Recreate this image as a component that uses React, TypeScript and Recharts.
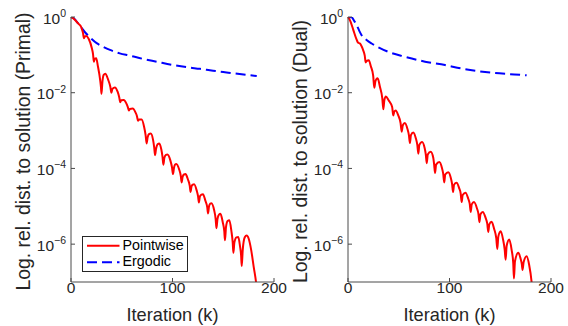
import React from 'react';
import { LineChart, Line, XAxis, YAxis, Legend } from 'recharts';

// [iteration k, log10 of relative distance]
const primalPointwise: [number, number][] = [
  [0, 0], [2, -0.03], [4, -0.08], [7, -0.17], [9.5, -0.24], [10.5, -0.3], [11.8, -0.42], [12.8, -0.56],
  [13.8, -0.51], [15, -0.5], [17.5, -0.58], [20.5, -0.82], [21.7, -0.98], [22.5, -1.18], [23.5, -1.1],
  [24.8, -1.09], [26.5, -1.3], [28.8, -1.68], [29.5, -1.85], [30, -2.03], [31, -1.7], [32.2, -1.53],
  [33.8, -1.5], [36.5, -1.65], [38.8, -1.85], [39.8, -2.0], [40.8, -1.9], [43.2, -1.86], [46, -1.98],
  [47.5, -2.12], [48.5, -2.25], [49.5, -2.2], [52, -2.19], [54.5, -2.28], [56, -2.38], [57, -2.47],
  [58, -2.43], [60.8, -2.42], [63.5, -2.52], [65, -2.62], [66, -2.74], [67, -2.71], [69.6, -2.71],
  [72, -2.9], [73.5, -3.12], [74.5, -3.34], [75.5, -3.18], [77, -3.09], [78.6, -3.08], [80.8, -3.24],
  [82, -3.45], [82.8, -3.65], [83.8, -3.48], [85.3, -3.36], [87, -3.34], [89, -3.5], [90.2, -3.7],
  [91, -3.9], [92, -3.72], [93.5, -3.64], [95, -3.63], [97.8, -3.78], [99.5, -3.97], [100.5, -4.15],
  [101.5, -3.98], [102.5, -3.9], [103.8, -3.88], [106.5, -4.02], [108.2, -4.2], [109, -4.37],
  [110, -4.22], [111.3, -4.16], [112.8, -4.15], [115.3, -4.3], [117, -4.46], [117.8, -4.62],
  [118.8, -4.47], [120, -4.43], [121.3, -4.42], [123.8, -4.58], [125.2, -4.74], [126, -4.9],
  [127, -4.74], [128.5, -4.69], [130, -4.68], [132.5, -4.86], [134.2, -5.02], [135, -5.19],
  [136, -5.0], [137.2, -4.93], [138.4, -4.92], [141, -5.1], [142.5, -5.33], [143.3, -5.58],
  [144.3, -5.34], [145.8, -5.22], [147.2, -5.2], [149.5, -5.42], [151, -5.65], [151.7, -5.9],
  [152.7, -5.55], [154.3, -5.39], [156, -5.37], [158, -5.65], [159.3, -5.95], [160, -6.23],
  [161, -5.95], [163, -5.82], [164.8, -5.81], [166.5, -6.05], [167.6, -6.3], [168.2, -6.58],
  [169.2, -6.15], [171.2, -5.82], [173.1, -5.77], [175, -5.85], [177.5, -6.15], [180, -6.6],
  [182.3, -7.0], [183.5, -7.3],
];

const primalErgodic: [number, number][] = [
  [0, 0], [3, -0.04], [7, -0.17], [10, -0.27], [14, -0.41], [20, -0.57], [25.3, -0.69], [32, -0.79],
  [38.4, -0.87], [48, -0.96], [58, -1.02], [70, -1.1], [84.4, -1.18], [100.8, -1.27], [115, -1.33],
  [127, -1.37], [140, -1.42], [155, -1.47], [170, -1.52], [183, -1.56],
];

const dualPointwise: [number, number][] = [
  [0, 0], [2.5, -0.12], [5.2, -0.34], [8.5, -0.6], [10, -0.68], [11.8, -0.7], [13.5, -0.78],
  [15, -0.88], [16.5, -1.02], [17.4, -1.2], [18.5, -1.16], [20.5, -1.14], [22.5, -1.3],
  [24.8, -1.55], [25.9, -1.87], [27, -1.7], [28, -1.64], [29.2, -1.62], [31.5, -1.85], [33.8, -2.15],
  [34.8, -2.44], [35.8, -2.2], [37.3, -2.1], [40, -2.2], [43.5, -2.38], [44.6, -2.6], [45.6, -2.5],
  [47, -2.47], [49.5, -2.6], [51.8, -2.8], [52.9, -3.03], [54, -2.86], [56, -2.8], [58.5, -2.95],
  [60, -3.12], [61, -3.33], [62, -3.12], [64.3, -3.05], [66.8, -3.2], [68.3, -3.38], [69.3, -3.61],
  [70.3, -3.38], [73, -3.3], [75.5, -3.46], [76.6, -3.62], [77.6, -3.86], [78.6, -3.63], [81.5, -3.56],
  [84, -3.72], [84.8, -3.88], [85.8, -4.12], [86.8, -3.9], [90, -3.83], [92.5, -3.98], [93.8, -4.14],
  [94.8, -4.37], [95.8, -4.16], [98.8, -4.1], [101.3, -4.25], [102.5, -4.4], [103.5, -4.62],
  [104.5, -4.43], [107, -4.38], [109.5, -4.52], [111, -4.66], [112, -4.89], [113, -4.7],
  [115.8, -4.64], [118.5, -4.8], [119.9, -4.93], [120.9, -5.15], [121.9, -4.95], [124.1, -4.89],
  [127, -5.05], [128.5, -5.2], [129.5, -5.42], [130.5, -5.21], [132.8, -5.15], [135.5, -5.3],
  [137.2, -5.46], [138.2, -5.68], [139.2, -5.48], [141.5, -5.41], [144, -5.6], [146.1, -5.85],
  [147.1, -6.13], [148.1, -5.8], [150.4, -5.66], [152.8, -5.88], [154.4, -6.15], [155.3, -6.41],
  [156.3, -6.05], [158.9, -5.88], [161.2, -6.15], [162.8, -6.5], [163.5, -6.91], [164.5, -6.45],
  [167.8, -6.23], [170, -6.38], [171.2, -6.52], [172, -6.68], [173, -6.48], [176, -6.32],
  [178.5, -6.55], [180.9, -7.0], [182, -7.35],
];

const dualErgodic: [number, number][] = [
  [0, 0], [3.6, -0.01], [6, -0.1], [8.5, -0.21], [11, -0.36], [13.4, -0.48], [18, -0.6], [23.3, -0.7],
  [30, -0.8], [39.7, -0.92], [56.2, -1.05], [75.9, -1.18], [95.6, -1.27], [111.6, -1.36], [128, -1.43],
  [144.5, -1.48], [160, -1.51], [176, -1.54],
];

const xTicks = [0, 100, 200];
const yTicks = [1e-6, 1e-4, 1e-2, 1];
const seriesNames = ['Pointwise', 'Ergodic'];
const xLabel = 'Iteration (k)';
const yLabels = ['Log. rel. dist. to solution (Primal)', 'Log. rel. dist. to solution (Dual)'];

const toRows = (pts: [number, number][]) => pts.map(([k, e]) => ({ k, v: Math.pow(10, e) }));

const AXIS = '#4a4a4a';
const TXT = '#262626';
const FONT = '"Liberation Sans", Arial, Helvetica, sans-serif';

function YTick(props: any) {
  const { x, y, payload } = props;
  const exp = Math.round(Math.log10(payload.value));
  const lab = exp === 0 ? '0' : '\u2212' + Math.abs(exp);
  return (
    <text x={x} y={y + 6.5} textAnchor="end" fill={TXT} fontSize={15.5} fontFamily={FONT}>
      10<tspan dy={-6.5} fontSize={10.5}>{lab}</tspan>
    </text>
  );
}

function XTick(props: any) {
  const { x, y, payload } = props;
  return (
    <text x={x} y={y + 11} textAnchor="middle" fill={TXT} fontSize={15.5} fontFamily={FONT}>
      {payload.value}
    </text>
  );
}

const NoTick = () => <g />;

function XLab(props: any) {
  const vb = props.viewBox || {};
  return (
    <text x={vb.x + vb.width / 2} y={vb.y + 38.5} textAnchor="middle" fill={TXT} fontSize={18.2} fontFamily={FONT}>
      {xLabel}
    </text>
  );
}

function makeYLab(text: string) {
  return function YLab(props: any) {
    const vb = props.viewBox || {};
    const cx = vb.x + 29.5;
    const cy = vb.y + vb.height / 2 + 2;
    return (
      <text x={cx} y={cy} transform={`rotate(-90 ${cx} ${cy})`} textAnchor="middle" fill={TXT} fontSize={19.4} fontFamily={FONT}>
        {text}
      </text>
    );
  };
}

const LegendBox = () => (
  <svg width={106} height={36} style={{ display: 'block' }}>
    <rect x={0.5} y={0.5} width={105} height={35} fill="#fff" stroke={TXT} strokeWidth={1} />
    <line x1={5} x2={37.5} y1={9.8} y2={9.8} stroke="#ff0000" strokeWidth={2} />
    <text x={40.5} y={14.2} fontSize={14.3} fill="#000" fontFamily={FONT}>{seriesNames[0]}</text>
    <line x1={5} x2={37.5} y1={26.3} y2={26.3} stroke="#0000ff" strokeWidth={2} strokeDasharray="10 5" />
    <text x={40.5} y={29.8} fontSize={14.3} fill="#000" fontFamily={FONT}>{seriesNames[1]}</text>
  </svg>
);

function Panel({ pointwise, ergodic, yLabel, legend }: { pointwise: [number, number][]; ergodic: [number, number][]; yLabel: string; legend: boolean }) {
  const YLab = makeYLab(yLabel);
  return (
    <LineChart width={290} height={326} margin={{ top: 17, right: 16, bottom: 0, left: 0 }}>
      <XAxis
        xAxisId="b"
        type="number"
        dataKey="k"
        domain={[0, 200]}
        ticks={xTicks}
        interval={0}
        height={44}
        tickSize={-4}
        tickMargin={4}
        tick={<XTick />}
        stroke={AXIS}
        axisLine={{ stroke: AXIS }}
        tickLine={{ stroke: AXIS }}
        label={<XLab />}
      />
      <XAxis
        xAxisId="t"
        orientation="top"
        type="number"
        dataKey="k"
        domain={[0, 200]}
        ticks={xTicks}
        interval={0}
        height={0}
        tickSize={-4}
        tick={NoTick}
        axisLine={{ stroke: AXIS }}
        tickLine={{ stroke: AXIS }}
      />
      <YAxis
        yAxisId="l"
        scale="log"
        type="number"
        domain={[1e-7, 1]}
        allowDataOverflow
        ticks={yTicks}
        interval={0}
        width={71}
        tickSize={-4}
        tickMargin={9}
        tick={<YTick />}
        axisLine={{ stroke: AXIS }}
        tickLine={{ stroke: AXIS }}
        label={<YLab />}
      />
      <YAxis
        yAxisId="r"
        orientation="right"
        scale="log"
        type="number"
        domain={[1e-7, 1]}
        allowDataOverflow
        ticks={yTicks}
        interval={0}
        width={0}
        tickSize={-4}
        tick={NoTick}
        axisLine={{ stroke: AXIS }}
        tickLine={{ stroke: AXIS }}
      />
      <Line
        xAxisId="b"
        yAxisId="l"
        data={toRows(ergodic)}
        dataKey="v"
        type="monotoneX"
        stroke="#0000ff"
        strokeWidth={2}
        strokeDasharray="10 5"
        dot={false}
        activeDot={false}
        isAnimationActive={false}
        name={seriesNames[1]}
      />
      <Line
        xAxisId="b"
        yAxisId="l"
        data={toRows(pointwise)}
        dataKey="v"
        type="monotoneX"
        stroke="#ff0000"
        strokeWidth={2}
        dot={false}
        activeDot={false}
        isAnimationActive={false}
        name={seriesNames[0]}
      />
      {legend && (
        <Legend
          layout="vertical"
          align="center"
          verticalAlign="middle"
          content={<LegendBox />}
          wrapperStyle={{ left: 82, top: 236, width: 106, height: 36 }}
        />
      )}
    </LineChart>
  );
}

export default function App() {
  return (
    <div style={{ position: 'absolute', left: 0, top: 0, width: 568, height: 326, background: '#fff', fontFamily: FONT, overflow: 'hidden' }}>
      <div style={{ position: 'absolute', left: 0, top: 0 }}>
        <Panel pointwise={primalPointwise} ergodic={primalErgodic} yLabel={yLabels[0]} legend />
      </div>
      <div style={{ position: 'absolute', left: 277, top: 0 }}>
        <Panel pointwise={dualPointwise} ergodic={dualErgodic} yLabel={yLabels[1]} legend={false} />
      </div>
    </div>
  );
}
